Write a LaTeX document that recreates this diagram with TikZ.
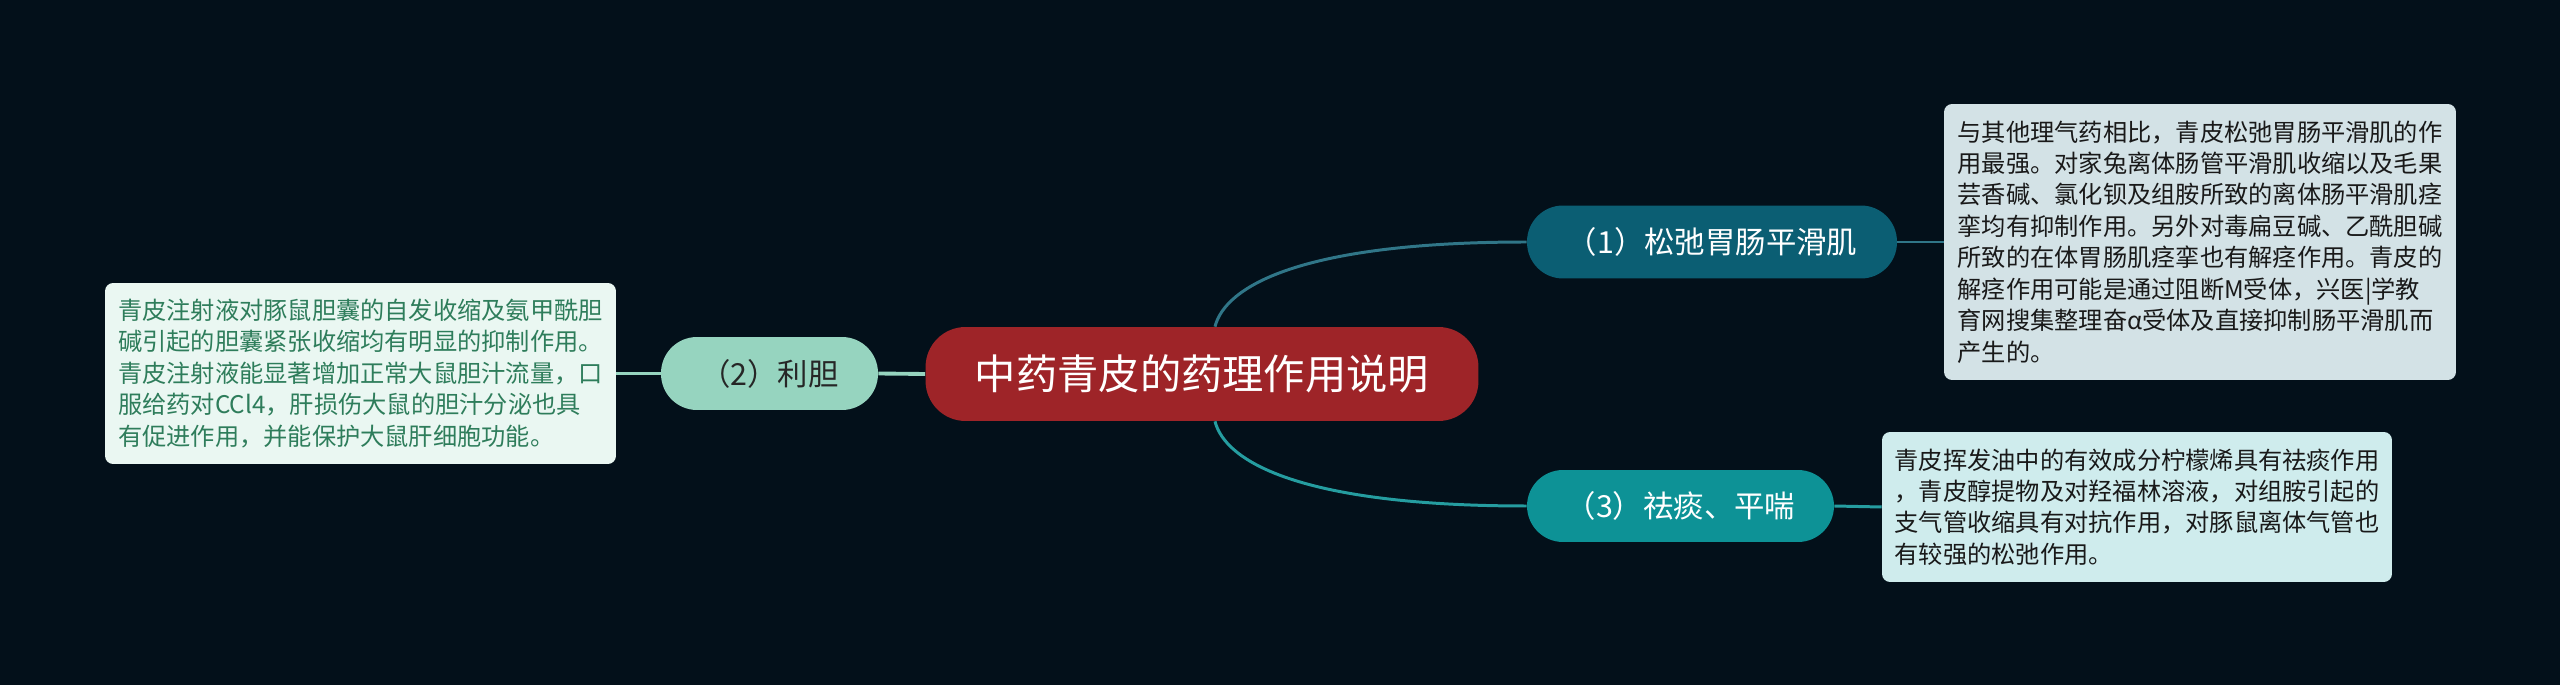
\documentclass[tikz,border=0pt]{standalone}
\usepackage{fontspec}
\setmainfont{Noto Sans CJK SC}
\definecolor{bg}{HTML}{03101A}
\definecolor{rootred}{HTML}{9E2428}
\definecolor{tealdark}{HTML}{0B5E73}
\definecolor{tealmid}{HTML}{0D9296}
\definecolor{mint}{HTML}{96D4BF}
\definecolor{notegray}{HTML}{D3E2E6}
\definecolor{notecyan}{HTML}{CFECED}
\definecolor{notemint}{HTML}{EAF7F2}
\definecolor{notegreen}{HTML}{2E7D5B}

\begin{document}
\begin{tikzpicture}[x=0.02cm, y=-0.02cm,
every node/.style={shape=rectangle, align=left, inner sep=0pt},
topic/.style={rounded corners=0.72cm, minimum height=1.46cm,
	font=\fontsize{17.3pt}{20pt}\selectfont},
note/.style={rounded corners=0.16cm, text=black!90,
	font=\fontsize{13.8pt}{17.9pt}\selectfont},
link/.style={line width=1.7pt}]
\fill[bg] (0,0) rectangle (2560,685);

\node[fill=rootred, text=white, rounded corners=0.8cm, minimum width=11.06cm,
	minimum height=1.88cm, font=\fontsize{23.5pt}{26pt}\selectfont]
	(root) at (1202,374) {中药青皮的药理作用说明};
\node[topic, fill=tealdark, text=white, minimum width=7.4cm] (relax) at (1712,242)
	{（1）松弛胃肠平滑肌};
\node[topic, fill=mint, text=black!85, minimum width=4.34cm] (bile) at (769.5,373.5)
	{（2）利胆};
\node[topic, fill=tealmid, text=white, minimum width=6.14cm, minimum height=1.44cm]
	(cough) at (1680.5,506) {（3）祛痰、平喘};

\node[note, fill=notegray, minimum width=10.24cm, minimum height=5.52cm] (relaxnote)
	at (2200,242) {与其他理气药相比，青皮松弛胃肠平滑肌的作\\
	用最强。对家兔离体肠管平滑肌收缩以及毛果\\
	芸香碱、氯化钡及组胺所致的离体肠平滑肌痉\\
	挛均有抑制作用。另外对毒扁豆碱、乙酰胆碱\\
	所致的在体胃肠肌痉挛也有解痉作用。青皮的\\
	解痉作用可能是通过阻断M受体，兴医|学教\\
	育网搜集整理奋α受体及直接抑制肠平滑肌而\\
	产生的。};
\node[note, fill=notemint, text=notegreen, minimum width=10.22cm, minimum height=3.62cm]
	(bilenote) at (360.5,373.5) {青皮注射液对豚鼠胆囊的自发收缩及氨甲酰胆\\
	碱引起的胆囊紧张收缩均有明显的抑制作用。\\
	青皮注射液能显著增加正常大鼠胆汁流量，口\\
	服给药对CCl4，肝损伤大鼠的胆汁分泌也具\\
	有促进作用，并能保护大鼠肝细胞功能。};
\node[note, fill=notecyan, minimum width=10.2cm, minimum height=3cm] (coughnote)
	at (2137,507) {青皮挥发油中的有效成分柠檬烯具有祛痰作用\\
	，青皮醇提物及对羟福林溶液，对组胺引起的\\
	支气管收缩具有对抗作用，对豚鼠离体气管也\\
	有较强的松弛作用。};

\draw[link, tealdark!85!white] ([xshift=0.26cm]root.north) .. controls +(10,-40) and +(-227,0) .. (relax.west);
\draw[link, tealmid!90!white] ([xshift=0.26cm]root.south) .. controls +(10,40) and +(-227,0) .. (cough.west);
\draw[link, mint, line width=2.2pt] (bile.east) -- (root.west);
\draw[link, mint] (bile.west) -- (bilenote.east);
\draw[link, tealdark!85!white] (relax.east) -- (relaxnote.west);
\draw[link, tealmid!90!white] (cough.east) -- (coughnote.west);
\end{tikzpicture}
\end{document}
